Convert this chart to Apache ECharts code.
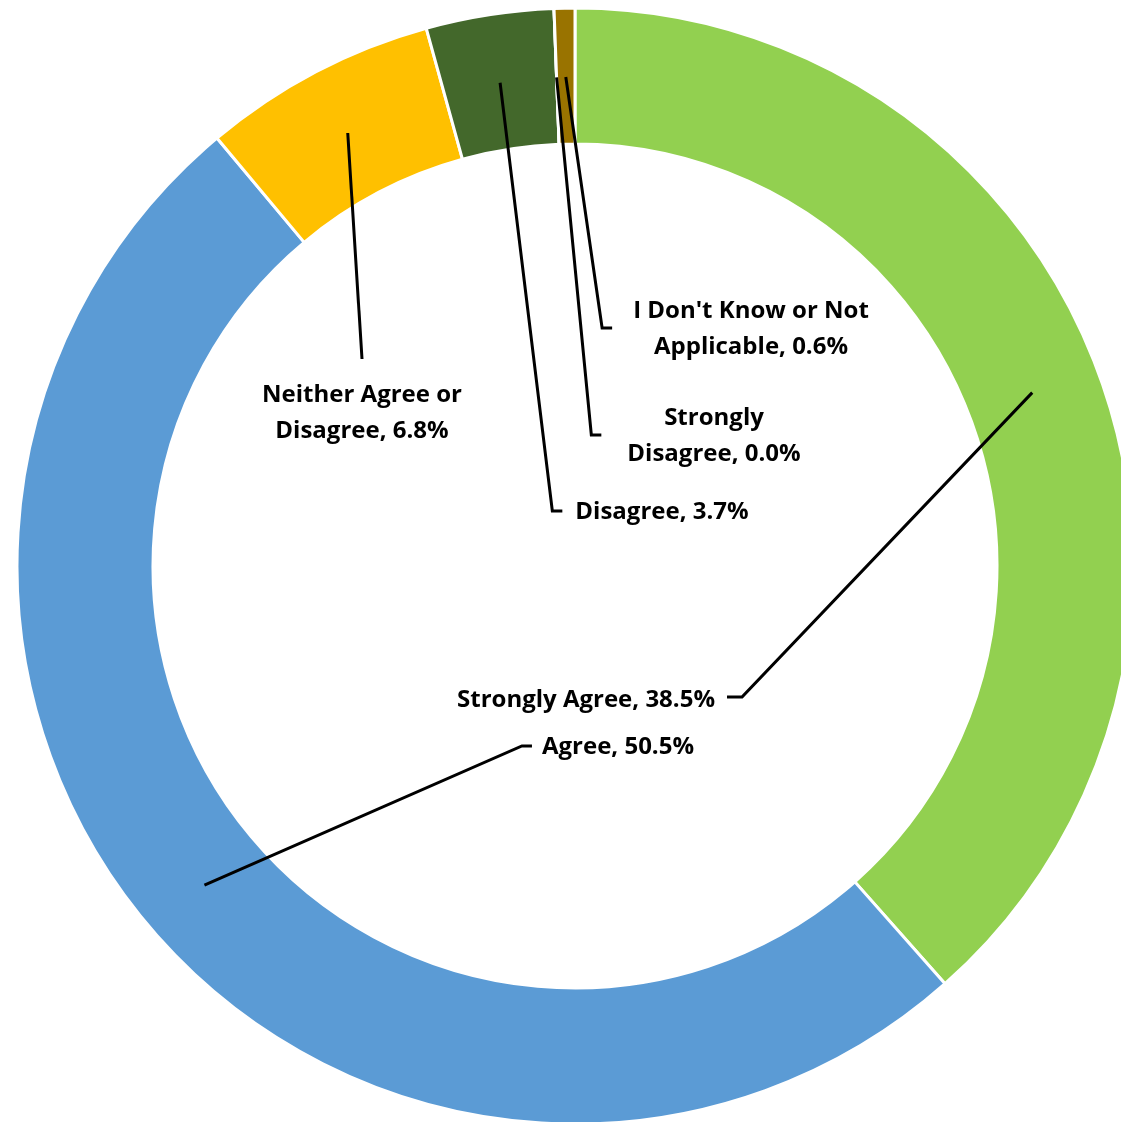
<!DOCTYPE html>
<html>
<head>
<meta charset="utf-8">
<script src="https://cdn.jsdelivr.net/npm/echarts@6/dist/echarts.min.js"></script>
<style>
  html, body { margin: 0; padding: 0; background: #fff; }
  #main { width: 1121px; height: 1122px; }
</style>
</head>
<body>
<div id="main"></div>
<script>
// data
var categories = [
  "Strongly Agree",
  "Agree",
  "Neither Agree or\nDisagree",
  "Disagree",
  "Strongly\nDisagree",
  "I Don't Know or Not\nApplicable"
];
var values = [38.5, 50.5, 6.8, 3.7, 0.0, 0.6];
var colors = ["#92D050", "#5B9BD5", "#FFC000", "#43682B", "#7F6000", "#997300"];

// layout of the ring (px)
var CX = 575, CY = 566, R_IN = 422, R_OUT = 558;
var R_MID = (R_IN + R_OUT) / 2 - 1;

// label centres and which side the leader line attaches to
var labelPos = [
  { x: 586, y: 700, side: "right", gap: 12 },
  { x: 618, y: 747, side: "left", gap: 10 },
  { x: 362, y: 413, side: "top", gap: 18 },
  { x: 662, y: 512, side: "left", gap: 13 },
  { x: 714, y: 436, side: "left", gap: 26 },
  { x: 751, y: 329, side: "left", gap: 21 }
];

var chart = echarts.init(document.getElementById("main"));

var total = values.reduce(function (a, b) { return a + b; }, 0);

function midPoint(i) {
  var before = 0;
  for (var k = 0; k < i; k++) before += values[k];
  var ang = (before + values[i] / 2) / total * Math.PI * 2;
  return [CX + R_MID * Math.sin(ang), CY - R_MID * Math.cos(ang)];
}

var pieData = categories.map(function (name, i) {
  return { name: name, value: values[i], itemStyle: { color: colors[i] } };
});

var option = {
  animation: false,
  series: [
    // the visible ring
    {
      type: "pie",
      z: 1,
      center: [CX, CY],
      radius: [R_IN, R_OUT],
      startAngle: 90,
      clockwise: true,
      silent: true,
      itemStyle: { borderColor: "#fff", borderWidth: 3 },
      label: { show: false },
      labelLine: { show: false },
      data: pieData
    },
    // transparent copy on top that carries the labels and leader lines
    {
      type: "pie",
      z: 5,
      center: [CX, CY],
      radius: [R_IN, R_OUT],
      startAngle: 90,
      clockwise: true,
      silent: true,
      avoidLabelOverlap: false,
      itemStyle: { color: "rgba(0,0,0,0)", borderWidth: 0 },
      label: {
        show: true,
        position: "outside",
        color: "#000",
        fontFamily: "Open Sans",
        fontWeight: "bold",
        fontSize: 24,
        lineHeight: 36,
        align: "center",
        formatter: function (p) {
          return p.name + ", " + p.value.toFixed(1) + "%";
        }
      },
      labelLine: {
        show: true,
        smooth: false,
        lineStyle: { color: "#000", width: 3 }
      },
      labelLayout: function (params) {
        var i = params.dataIndex;
        var pos = labelPos[i];
        var w = params.labelRect.width;
        var h = params.labelRect.height;
        var start;
        if (params.labelLinePoints && params.labelLinePoints[0]) {
          var p0 = params.labelLinePoints[0];
          var s = R_MID / Math.hypot(p0[0] - CX, p0[1] - CY);
          start = [CX + (p0[0] - CX) * s, CY + (p0[1] - CY) * s];
        } else {
          start = midPoint(i);
        }
        var pts;
        if (pos.side === "left") {
          var ex = pos.x - w / 2 - pos.gap;
          pts = [start, [ex - 10, pos.y - 1], [ex, pos.y - 1]];
        } else if (pos.side === "right") {
          var rx = pos.x + w / 2 + pos.gap;
          pts = [start, [rx + 15, pos.y - 3], [rx, pos.y - 3]];
        } else {
          var ty = pos.y - h / 2 - pos.gap;
          pts = [start, [pos.x, ty], [pos.x, ty]];
        }
        return {
          x: pos.x,
          y: pos.y,
          align: "center",
          verticalAlign: "middle",
          labelLinePoints: pts
        };
      },
      data: categories.map(function (name, i) {
        return { name: name, value: values[i] };
      })
    }
  ]
};

chart.setOption(option);
</script>
</body>
</html>
